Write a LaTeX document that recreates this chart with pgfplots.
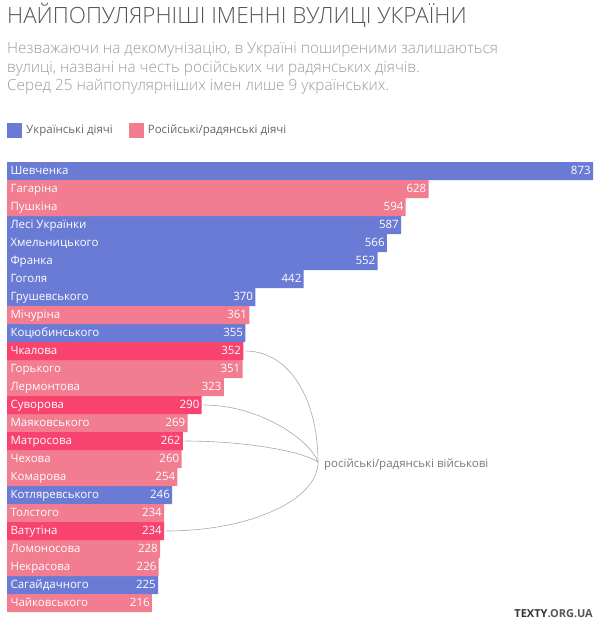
\documentclass[border=0pt]{standalone}
\usepackage{fontspec}
\setmainfont{Open Sans}
\IfFontExistsTF{Open Sans Light}{\newfontfamily\lightfont{Open Sans Light}}{\newfontfamily\lightfont{Open Sans}}
\usepackage{pgfplots}
\pgfplotsset{compat=1.18}
\definecolor{ukblue}{HTML}{6A7BD5}
\definecolor{rupink}{HTML}{F27C90}
\definecolor{milpink}{HTML}{F9436F}
\definecolor{titlegray}{HTML}{555555}
\definecolor{subgray}{HTML}{9A9A9A}
\definecolor{linegray}{HTML}{A8A8A8}
\definecolor{labgray}{HTML}{777777}
\definecolor{leggray}{HTML}{666666}
\begin{document}
\begin{tikzpicture}
\path[use as bounding box] (0,0) rectangle (600pt,-627pt);
\node[anchor=base west, inner sep=0pt, text=titlegray, font=\lightfont\fontsize{22.4}{26}\selectfont] at (7pt,-23pt) {НАЙПОПУЛЯРНІШІ ІМЕННІ ВУЛИЦІ УКРАЇНИ};
\node[anchor=base west, inner sep=0pt, text=subgray, font=\lightfont\fontsize{15.35}{18}\selectfont] at (7pt,-53pt) {Незважаючи на декомунізацію, в Україні поширеними залишаються};
\node[anchor=base west, inner sep=0pt, text=subgray, font=\lightfont\fontsize{15.35}{18}\selectfont] at (7pt,-72pt) {вулиці, названі на честь російських чи радянських діячів.};
\node[anchor=base west, inner sep=0pt, text=subgray, font=\lightfont\fontsize{15.35}{18}\selectfont] at (7pt,-90.5pt) {Серед 25 найпопулярніших імен лише 9 українських.};
\begin{axis}[
  at={(7pt,-162pt)}, anchor=north west,
  x=0.671248pt, y=18pt,
  xmin=0, xmax=873, ymin=-0.5, ymax=24.5,
  xbar, bar width=18pt,
  axis line style={draw=none}, major tick length=0pt, xtick=\empty,
  ytick={0,...,24},
  yticklabels={Чайковського, Сагайдачного, Некрасова, Ломоносова, Ватутіна, Толстого, Котляревського, Комарова, Чехова, Матросова, Маяковського, Суворова, Лермонтова, Горького, Чкалова, Коцюбинського, Мічуріна, Грушевського, Гоголя, Франка, Хмельницького, Лесі Українки, Пушкіна, Гагаріна, Шевченка},
  yticklabel style={anchor=west, text=white, font=\fontsize{11.5}{13}\selectfont, text height=8.5pt, text depth=2.4pt},
  axis on top, clip=false,
  /pgf/number format/assume math mode=true,
  nodes near coords={\llap{\pgfmathprintnumber{\pgfplotspointmeta}\hspace{3pt}}},
  every node near coord/.append style={inner xsep=0pt, text=white, font=\fontsize{11.5}{13}\selectfont, text height=8.5pt, text depth=2.4pt},
  legend columns=2,
  legend cell align=left,
  legend image code/.code={\fill[#1] (0pt,-7.5pt) rectangle (15pt,7.5pt);},
  legend style={at={(0,1)}, anchor=south west, yshift=24pt, xshift=0pt, draw=none, fill=none, inner sep=0pt,
    font=\fontsize{11.5}{13}\selectfont, text=leggray,
    nodes={inner xsep=4pt},
    /tikz/every even column/.append style={column sep=12pt}},
]
\addplot[fill=ukblue, draw=none, bar shift=0pt] coordinates {(873,24) (587,21) (566,20) (552,19) (442,18) (370,17) (355,15) (246,6) (225,1)};
\addplot[fill=rupink, draw=none, bar shift=0pt] coordinates {(628,23) (594,22) (361,16) (351,13) (323,12) (269,10) (260,8) (254,7) (234,5) (228,3) (226,2) (216,0)};
\addplot[fill=milpink, draw=none, bar shift=0pt, forget plot] coordinates {(352,14) (290,11) (262,9) (234,4)};
\legend{Українські діячі, Російські/радянські діячі}
\draw[linegray, line width=0.6pt] ([xshift=2pt]axis cs:352,14) .. controls (axis cs:421.6,14) and (axis cs:463.3,11.28) .. (axis cs:463.3,7.83);
\draw[linegray, line width=0.6pt] ([xshift=2pt]axis cs:290,11) .. controls (axis cs:376.9,11) and (axis cs:451.4,9.06) .. (axis cs:463.3,7.83);
\draw[linegray, line width=0.6pt] ([xshift=2pt]axis cs:262,9) .. controls (axis cs:347.1,9) and (axis cs:436.5,8.5) .. (axis cs:463.3,7.83);
\draw[linegray, line width=0.6pt] ([xshift=2pt]axis cs:234,4) .. controls (axis cs:362,4) and (axis cs:463.3,5.72) .. (axis cs:463.3,7.83);
\node[anchor=west, inner sep=0pt, text=labgray, font=\fontsize{11.5}{13}\selectfont] at ([xshift=6pt,yshift=-2pt]axis cs:463.3,7.83) {російські/радянські військові};
\end{axis}
\node[anchor=base east, inner sep=0pt, font=\bfseries\fontsize{11}{13}\selectfont] at (593pt,-617pt) {\textcolor[HTML]{333333}{TEXTY}\textcolor[HTML]{555555}{.ORG.UA}};
\end{tikzpicture}
\end{document}
